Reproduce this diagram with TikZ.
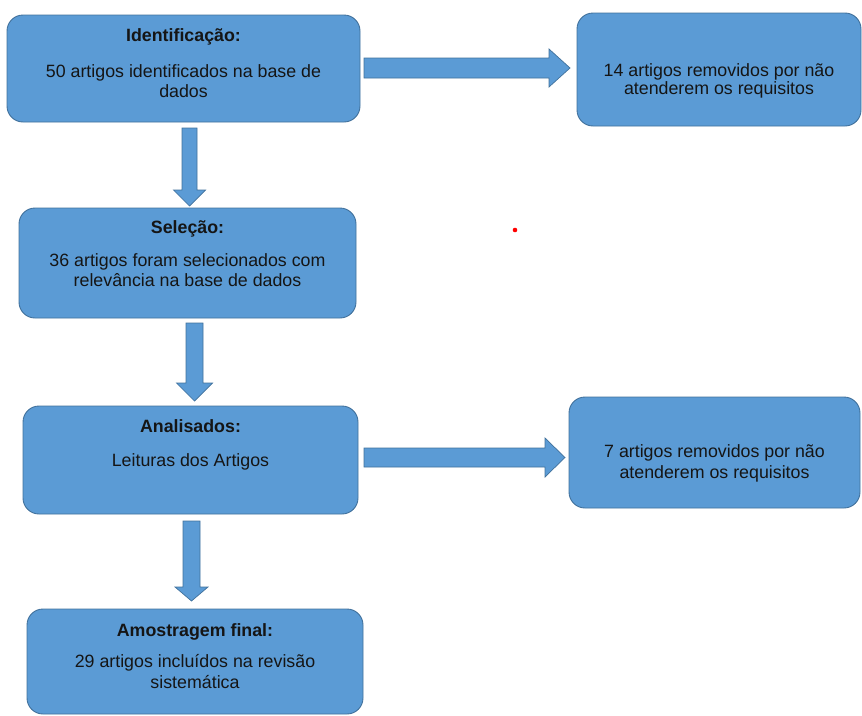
\documentclass[tikz,border=0pt]{standalone}
\usepackage{fontspec}
\setmainfont{Liberation Sans}
\usetikzlibrary{calc}
\definecolor{boxfill}{HTML}{5B9BD5}
\definecolor{boxline}{HTML}{41719C}
\definecolor{txt}{HTML}{151515}
\tikzset{
  box/.style={draw=boxline, line width=0.9pt, fill=boxfill, rounded corners=16pt},
  barrow/.style={draw=boxline, line width=0.7pt, fill=boxfill, line join=miter},
  ttl/.style={anchor=base, inner sep=0pt, text=txt, font=\fontsize{17.8}{20}\selectfont\bfseries},
  bdy/.style={anchor=base, inner sep=0pt, text=txt, align=center, font=\fontsize{17.8}{20}\selectfont},
}
\begin{document}
\begin{tikzpicture}[x=1pt,y=-1pt]
\useasboundingbox (0,0) rectangle (862,715);
% boxes
\path[box] (7,15) rectangle (360,122); \coordinate (b1) at (183.5,68.5);
\path[box] (19,208) rectangle (356,318); \coordinate (b2) at (187.5,263);
\path[box] (23,406) rectangle (358,514); \coordinate (b3) at (190.5,460);
\path[box] (27,609) rectangle (363,714); \coordinate (b4) at (195,661);
\path[box] (577,13) rectangle (861,126); \coordinate (r1) at (719,69.5);
\path[box] (569,397) rectangle (860,508); \coordinate (r2) at (714.5,452.5);
% texts
\node[ttl] (t1) at (183.5,41) {Identificação:};
\node[bdy] (d1) at (183.5,77) {50 artigos identificados na base de};
\node[bdy] (d1b) at (183.5,97) {dados};
\node[ttl] (t2) at (187.5,233) {Seleção:};
\node[bdy] (d2) at (187.5,266) {36 artigos foram selecionados com};
\node[bdy] (d2b) at (187.5,286) {relevância na base de dados};
\node[ttl] (t3) at (190.5,432) {Analisados:};
\node[bdy] (d3) at (190.5,466) {Leituras dos Artigos};
\node[ttl] (t4) at (195,636) {Amostragem final:};
\node[bdy] (d4) at (195,667) {29 artigos incluídos na revisão};
\node[bdy] (d4b) at (195,688) {sistemática};
\node[bdy] (e1) at (719,76) {14 artigos removidos por não};
\node[bdy] (e1b) at (719,94) {atenderem os requisitos};
\node[bdy] (e2) at (714.5,457) {7 artigos removidos por não};
\node[bdy] (e2b) at (714.5,478) {atenderem os requisitos};
% arrow end points
\coordinate (ra1) at (364,68);   \coordinate (rb1) at (570,68);
\coordinate (ra2) at (364,457.5); \coordinate (rb2) at (565,457.5);
\coordinate (da1) at (189.5,128); \coordinate (db1) at (189.5,206);
\coordinate (da2) at (194.5,323); \coordinate (db2) at (194.5,401);
\coordinate (da3) at (191.5,521); \coordinate (db3) at (191.5,601);
% right arrows
\path[barrow] ($(ra1)+(0,-10)$) -- ($(rb1)+(-21,-10)$) -- ($(rb1)+(-21,-19)$) -- (rb1)
  -- ($(rb1)+(-21,19)$) -- ($(rb1)+(-21,10)$) -- ($(ra1)+(0,10)$) -- cycle;
\path[barrow] ($(ra2)+(0,-9.5)$) -- ($(rb2)+(-20,-9.5)$) -- ($(rb2)+(-20,-19.5)$) -- (rb2)
  -- ($(rb2)+(-20,19.5)$) -- ($(rb2)+(-20,9.5)$) -- ($(ra2)+(0,9.5)$) -- cycle;
% down arrows
\path[barrow] ($(da1)+(-7.5,0)$) -- ($(db1)+(-7.5,-16)$) -- ($(db1)+(-16,-16)$) -- (db1)
  -- ($(db1)+(16,-16)$) -- ($(db1)+(7.5,-16)$) -- ($(da1)+(7.5,0)$) -- cycle;
\path[barrow] ($(da2)+(-8.5,0)$) -- ($(db2)+(-8.5,-18)$) -- ($(db2)+(-18,-18)$) -- (db2)
  -- ($(db2)+(18,-18)$) -- ($(db2)+(8.5,-18)$) -- ($(da2)+(8.5,0)$) -- cycle;
\path[barrow] ($(da3)+(-8.5,0)$) -- ($(db3)+(-8.5,-14)$) -- ($(db3)+(-16.5,-14)$) -- (db3)
  -- ($(db3)+(16.5,-14)$) -- ($(db3)+(8.5,-14)$) -- ($(da3)+(8.5,0)$) -- cycle;
% red dot
\fill[red] (515,230) circle (2.3);
\end{tikzpicture}
\end{document}
